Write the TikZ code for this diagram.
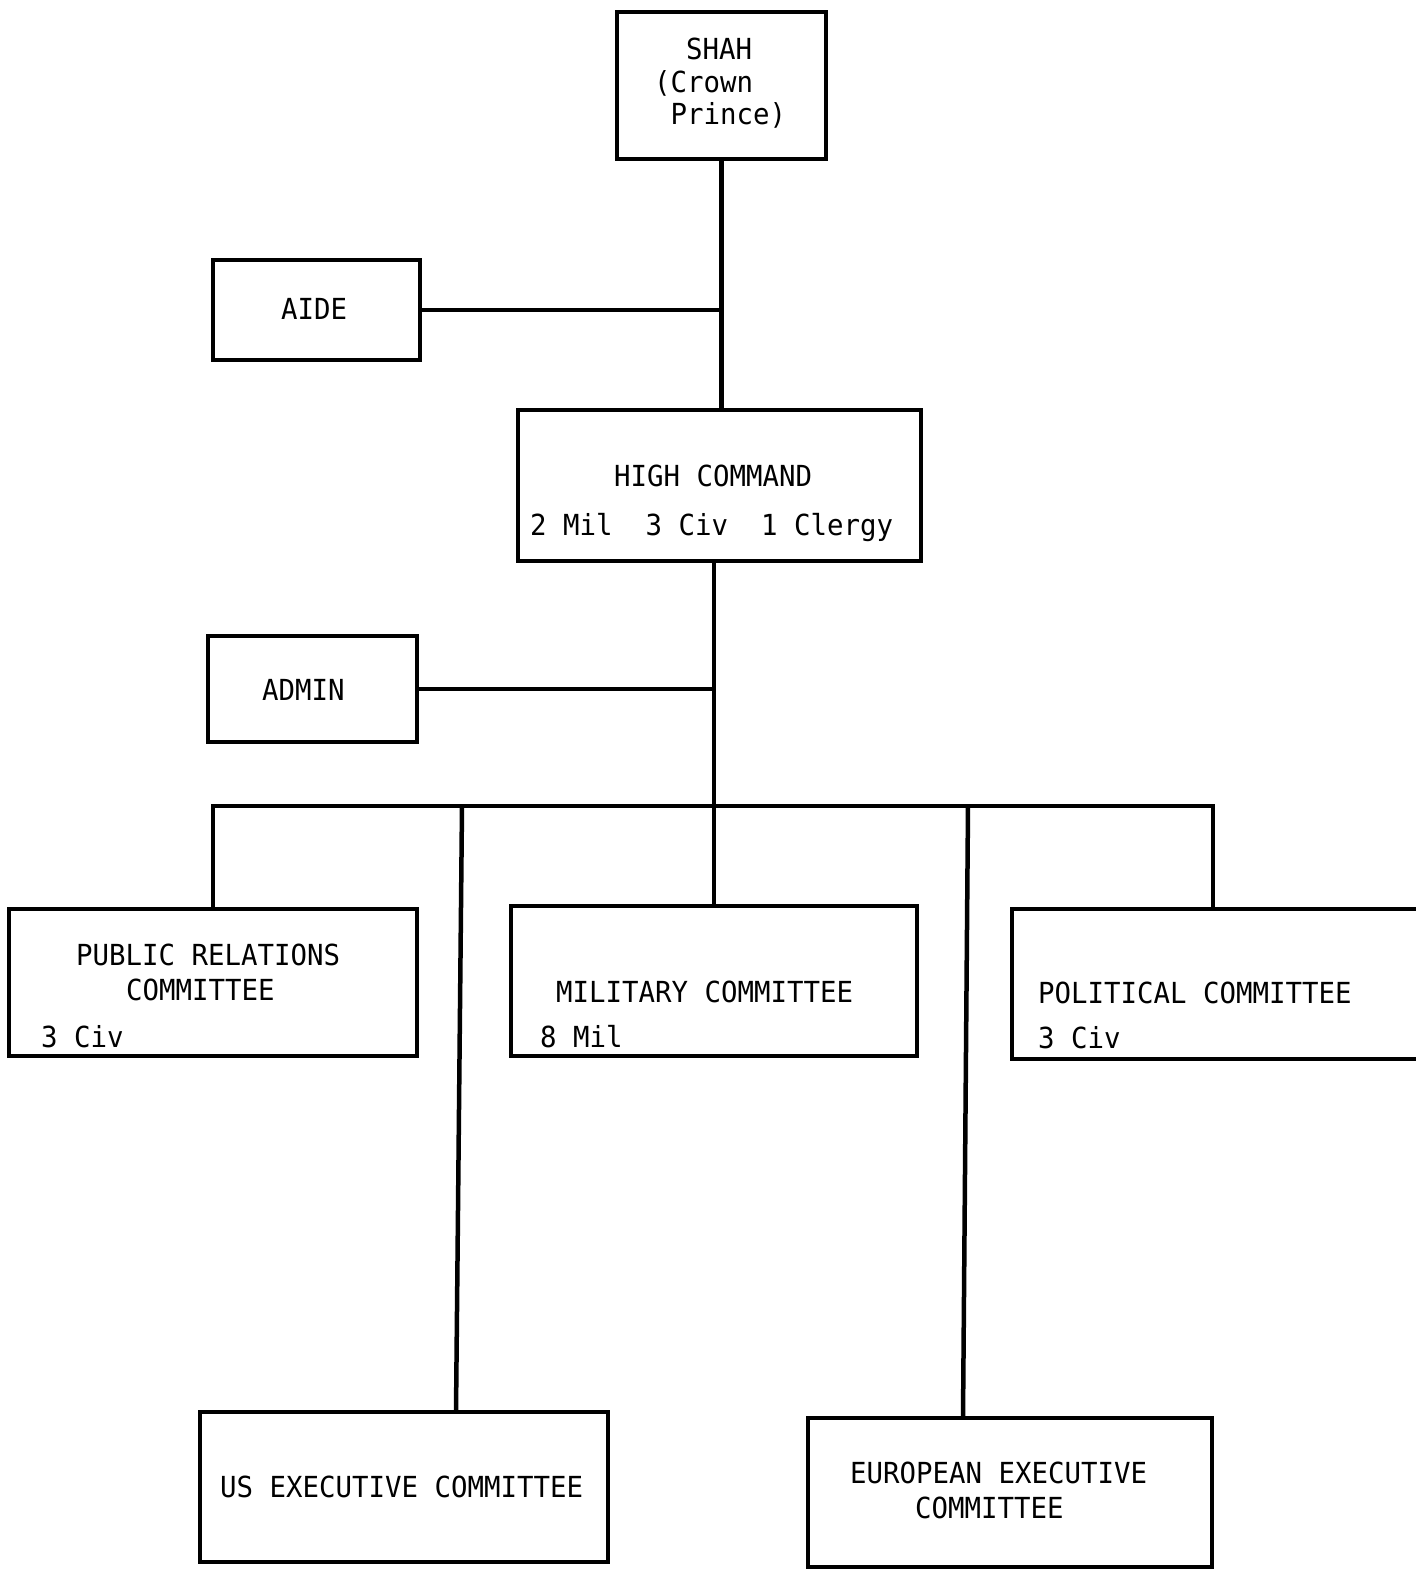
\documentclass[tikz,border=0pt]{standalone}
\usepackage{fontspec}
\newfontfamily\tw[FakeStretch=0.945]{DejaVu Sans Mono}
\begin{document}
\begin{tikzpicture}[x=1pt,y=-1pt,
  box/.style={draw, line width=4.5pt, rectangle, inner sep=0pt},
  wire/.style={line width=4.5pt},
  txt/.style={anchor=base west, inner sep=0pt, font=\tw\fontsize{29}{31}\selectfont}]
\useasboundingbox (0,0) rectangle (1416,1574);
% boxes
\node[box, minimum width=209pt, minimum height=147pt] (shah) at (721.5,85.5) {};
\node[box, minimum width=207pt, minimum height=100pt] (aide) at (316.5,310) {};
\node[box, minimum width=403pt, minimum height=151pt] (hc) at (719.5,485.5) {};
\node[box, minimum width=209pt, minimum height=106pt] (admin) at (312.5,689) {};
\node[box, minimum width=408pt, minimum height=147pt] (pr) at (213,982.5) {};
\node[box, minimum width=406pt, minimum height=150pt] (mil) at (714,981) {};
\node[box, minimum width=428pt, minimum height=150pt] (pol) at (1226,984) {};
\node[box, minimum width=408pt, minimum height=150pt] (us) at (404,1487) {};
\node[box, minimum width=404pt, minimum height=149pt] (eu) at (1010,1492.5) {};
% texts
\node[txt] (t1) at (686,59) {SHAH};
\node[txt] (t2) at (654,92) {(Crown};
\node[txt] (t3) at (654,124) {\ Prince)};
\node[txt] (t4) at (281,319) {AIDE};
\node[txt] (t5) at (614,486) {HIGH COMMAND};
\node[txt] (t6) at (530,535) {2 Mil\ \ 3 Civ\ \ 1 Clergy};
\node[txt] (t7) at (262,700) {ADMIN};
\node[txt] (t8) at (76,965) {PUBLIC RELATIONS};
\node[txt] (t9) at (126,1000) {COMMITTEE};
\node[txt] (t10) at (41,1047) {3 Civ};
\node[txt] (t11) at (556,1002) {MILITARY COMMITTEE};
\node[txt] (t12) at (540,1047) {8 Mil};
\node[txt] (t13) at (1038,1003) {POLITICAL COMMITTEE};
\node[txt] (t14) at (1038,1048) {3 Civ};
\node[txt] (t15) at (220,1497) {US EXECUTIVE COMMITTEE};
\node[txt] (t16) at (850,1483) {EUROPEAN EXECUTIVE};
\node[txt] (t17) at (915,1518) {COMMITTEE};
% connectors
\coordinate (jA) at (shah.south |- aide.east);
\coordinate (jB) at (mil.north |- admin.east);
\coordinate (busL) at (213,806);
\coordinate (busR) at (1213,806);
\coordinate (busUS) at (462,806);
\coordinate (busEU) at (968,806);
\coordinate (usTop) at (456,1412);
\coordinate (euTop) at (963,1418);
\coordinate (polTop) at (1213,909);
\draw[wire] (shah.south) -- (shah.south |- hc.north);
\draw[wire] (aide.east) -- (jA);
\draw[wire] (mil.north |- hc.south) -- (mil.north);
\draw[wire] (admin.east) -- (jB);
\draw[wire] (pr.north) -- (busL) -- (busR) -- (polTop);
\draw[wire] (busUS) -- (usTop);
\draw[wire] (busEU) -- (euTop);
\end{tikzpicture}
\end{document}
